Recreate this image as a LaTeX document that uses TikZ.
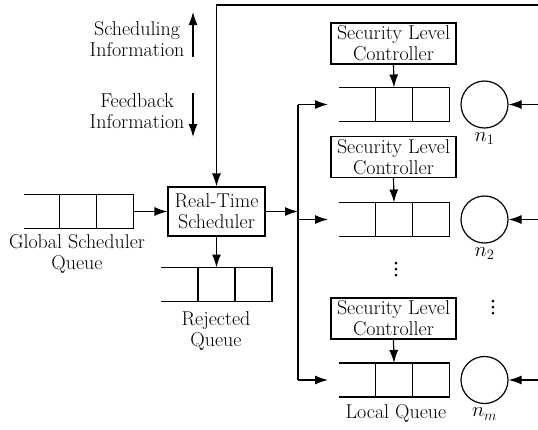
\documentclass[tikz,border=0pt]{standalone}
\usepackage{amsmath}
\usepackage{tikz}
\usetikzlibrary{positioning, shapes, arrows.meta}

\tikzset{
  cell/.style={draw, line width=1.4pt, minimum width=37pt, minimum height=34pt, inner sep=0pt, outer sep=0pt},
  ctrlbox/.style={draw, align=center, minimum width=125pt, minimum height=41pt, inner sep=1pt},
  procnode/.style={draw, circle, minimum size=47pt, inner sep=0pt},
  flow/.style={-{Latex[length=13pt,width=9pt]}},
  lbl/.style={align=center}
}

\begin{document}
\begin{tikzpicture}[x=1pt, y=-1pt, line width=1.2pt, font=\fontsize{20}{21}\selectfont]
    \useasboundingbox (0,0) rectangle (538,429);

    % Legend
    \node[lbl, anchor=east, inner sep=1pt] (sinfo) at (186,39) {Scheduling\\Information};
    \node[lbl, anchor=east, inner sep=1pt] (finfo) at (186,111) {Feedback\\Information};
    \coordinate (su0) at (193,57);
    \coordinate (su1) at (193,12);
    \coordinate (fd0) at (193,93);
    \coordinate (fd1) at (193,137);
    \draw[flow] (su0) -- (su1);
    \draw[flow] (fd0) -- (fd1);

    % Global scheduler queue
    \node[cell] (g1) at (78,211.5) {};
    \node[cell, right=0pt of g1] (g2) {};
    \draw (g1.north west) -- ++(-36,0);
    \draw (g1.south west) -- ++(-36,0);
    \node[lbl] (glabel) at (77,254) {Global Scheduler\\Queue};

    % Real-time scheduler
    \node[draw, lbl, minimum width=97pt, minimum height=49pt, inner sep=1pt] (rts) at (216.5,211.5) {Real-Time\\Scheduler};
    \draw[flow] (g2.east) -- (rts.west);

    % Rejected queue
    \node[cell] (r1) at (216.5,284.5) {};
    \node[cell, right=0pt of r1] (r2) {};
    \draw (r1.north west) -- ++(-37,0);
    \draw (r1.south west) -- ++(-37,0);
    \draw[flow] (rts.south) -- (r1.north);
    \node[lbl] (rlabel) at (216,331) {Rejected\\Queue};

    % Feedback line
    \coordinate (fright) at (540,5);
    \draw[flow] (fright) -| (rts.north);

    % Security level controllers
    \node[ctrlbox] (c1) at (393.5,43.5) {Security Level\\Controller};
    \node[ctrlbox] (c2) at (393.5,157) {Security Level\\Controller};
    \node[ctrlbox] (c3) at (393.5,318.5) {Security Level\\Controller};

    % Local queues
    \node[cell] (q1a) at (394,104.5) {};
    \node[cell, right=0pt of q1a] (q1b) {};
    \draw (q1a.north west) -- ++(-37,0);
    \draw (q1a.south west) -- ++(-37,0);

    \node[cell] (q2a) at (394,219.5) {};
    \node[cell, right=0pt of q2a] (q2b) {};
    \draw (q2a.north west) -- ++(-37,0);
    \draw (q2a.south west) -- ++(-37,0);

    \node[cell] (qma) at (394,380) {};
    \node[cell, right=0pt of qma] (qmb) {};
    \draw (qma.north west) -- ++(-37,0);
    \draw (qma.south west) -- ++(-37,0);
    \node[lbl] (llabel) at (396,413) {Local Queue};

    \draw[flow] (c1.south) -- (q1a.north);
    \draw[flow] (c2.south) -- (q2a.north);
    \draw[flow] (c3.south) -- (qma.north);

    % Dispatch bus
    \coordinate (j1) at (298,104.5);
    \coordinate (j2) at (298,219.5);
    \coordinate (jm) at (298,380);
    \coordinate (q1in) at (328,104.5);
    \coordinate (q2in) at (328,219.5);
    \coordinate (qmin) at (328,380);
    \draw (j1) -- (jm);
    \draw[flow] (rts.east) -- (rts.east -| j1);
    \draw[flow] (j1) -- (q1in);
    \draw[flow] (j2) -- (q2in);
    \draw[flow] (jm) -- (qmin);

    % Processing nodes
    \node[procnode] (p1) at (484.5,104.5) {};
    \node[procnode] (p2) at (484.5,219.5) {};
    \node[procnode] (pm) at (484.5,380) {};
    \node[below=0pt of p1] (n1) {$n_1$};
    \node[below=0pt of p2] (n2) {$n_2$};
    \node[below=0pt of pm] (nm) {$n_m$};
    \coordinate (e1) at (540,104.5);
    \coordinate (e2) at (540,219.5);
    \coordinate (em) at (540,380);
    \draw[flow] (e1) -- (p1);
    \draw[flow] (e2) -- (p2);
    \draw[flow] (em) -- (pm);

    % Ellipsis dots
    \fill (396,263) circle (1.5) (396,269) circle (1.5) (396,275) circle (1.5);
    \fill (493,301) circle (1.5) (493,307) circle (1.5) (493,313) circle (1.5);
\end{tikzpicture}
\end{document}
